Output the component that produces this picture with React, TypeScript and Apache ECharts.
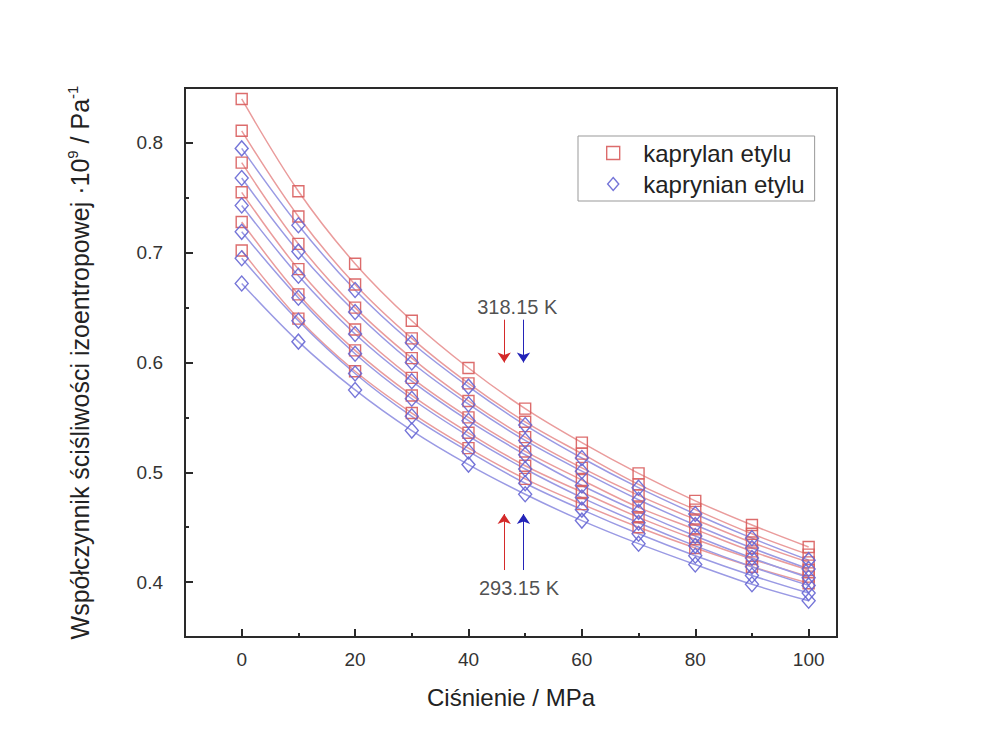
import React, { useEffect, useRef } from "react";
import * as echarts from "echarts";

// Pressure grid of the measurements, MPa
const pressure = [0, 10, 20, 30, 40, 50, 60, 70, 80, 90, 100];

// Isotherm labels, from the warmest to the coldest
const isotherms = ["318.15 K", "313.15 K", "308.15 K", "303.15 K", "298.15 K", "293.15 K"];

// Isentropic compressibility ·10^9 / Pa^-1 — ethyl caprylate (kaprylan etylu)
const kaprylan318 = [0.840, 0.756, 0.690, 0.638, 0.595, 0.558, 0.527, 0.499, 0.474, 0.452, 0.432];
const kaprylan313 = [0.811, 0.733, 0.671, 0.622, 0.581, 0.546, 0.517, 0.489, 0.466, 0.444, 0.425];
const kaprylan308 = [0.782, 0.708, 0.650, 0.604, 0.565, 0.532, 0.504, 0.479, 0.457, 0.436, 0.418];
const kaprylan303 = [0.755, 0.685, 0.630, 0.586, 0.550, 0.519, 0.493, 0.468, 0.448, 0.428, 0.411];
const kaprylan298 = [0.728, 0.662, 0.611, 0.570, 0.536, 0.506, 0.482, 0.459, 0.439, 0.421, 0.405];
const kaprylan293 = [0.702, 0.640, 0.592, 0.554, 0.522, 0.494, 0.471, 0.450, 0.431, 0.414, 0.399];

// Isentropic compressibility ·10^9 / Pa^-1 — ethyl caprate (kaprynian etylu)
const kaprynian318 = [0.795, 0.725, 0.666, 0.618, 0.578, 0.543, 0.513, 0.486, 0.462, 0.440, 0.420];
const kaprynian313 = [0.768, 0.701, 0.646, 0.600, 0.562, 0.529, 0.501, 0.475, 0.452, 0.431, 0.412];
const kaprynian308 = [0.743, 0.679, 0.626, 0.583, 0.547, 0.516, 0.488, 0.464, 0.442, 0.422, 0.404];
const kaprynian303 = [0.719, 0.659, 0.608, 0.567, 0.533, 0.503, 0.477, 0.454, 0.433, 0.414, 0.397];
const kaprynian298 = [0.695, 0.638, 0.590, 0.551, 0.519, 0.490, 0.466, 0.444, 0.424, 0.406, 0.390];
const kaprynian293 = [0.672, 0.619, 0.575, 0.538, 0.507, 0.480, 0.456, 0.435, 0.416, 0.398, 0.383];

const kaprylanSets = [kaprylan318, kaprylan313, kaprylan308, kaprylan303, kaprylan298, kaprylan293];
const kaprynianSets = [kaprynian318, kaprynian313, kaprynian308, kaprynian303, kaprynian298, kaprynian293];

const seriesNames = ["kaprylan etylu", "kaprynian etylu"];

// Tick positions
const xMajorTicks = [0, 20, 40, 60, 80, 100];
const xMinorTicks = [10, 30, 50, 70, 90];
const yMajorTicks = [0.4, 0.5, 0.6, 0.7, 0.8];
const yMinorTicks = [0.45, 0.55, 0.65, 0.75];

// Temperature arrows: [x, yFrom, yTo]
const arrowWarmRed = [46.3, 0.639, 0.600];
const arrowWarmBlue = [49.7, 0.639, 0.600];
const arrowColdRed = [46.3, 0.411, 0.462];
const arrowColdBlue = [49.7, 0.411, 0.462];
// Arrow captions: [x, y, text]
const arrowCaptions = [
  [48.6, 0.651, isotherms[0]],
  [48.9, 0.395, isotherms[5]],
];

const FONT = "'Liberation Sans', Arial, sans-serif";
const RED_LINE = "#ea9c9c";
const RED_MARK = "#d85c5c";
const BLUE_LINE = "#9a9ae4";
const BLUE_MARK = "#6666d4";
const ARROW_RED = "#d42a2a";
const ARROW_BLUE = "#2424b8";

const squareIcon = "path://M0,0L10,0L10,10L0,10Z";
const diamondIcon = "path://M6,0L12,7L6,14L0,7Z";

function toPoints(values: number[]) {
  return pressure.map((p, i) => [p, values[i]]);
}

function buildOption() {
  const series: any[] = [];

  kaprylanSets.forEach((vals, i) => {
    series.push({
      type: "line",
      name: "fit-kaprylan-" + isotherms[i],
      data: toPoints(vals),
      smooth: 0.35,
      symbol: "none",
      silent: true,
      z: 1,
      lineStyle: { color: RED_LINE, width: 1.5 },
    });
  });
  kaprynianSets.forEach((vals, i) => {
    series.push({
      type: "line",
      name: "fit-kaprynian-" + isotherms[i],
      data: toPoints(vals),
      smooth: 0.35,
      symbol: "none",
      silent: true,
      z: 1,
      lineStyle: { color: BLUE_LINE, width: 1.5 },
    });
  });
  kaprylanSets.forEach((vals) => {
    series.push({
      type: "scatter",
      name: seriesNames[0],
      data: toPoints(vals),
      symbol: "rect",
      symbolSize: 11,
      z: 3,
      itemStyle: { color: "rgba(255,255,255,0)", borderColor: RED_MARK, borderWidth: 1.4, opacity: 0.9 },
    });
  });
  kaprynianSets.forEach((vals) => {
    series.push({
      type: "scatter",
      name: seriesNames[1],
      data: toPoints(vals),
      symbol: "diamond",
      symbolSize: [13, 15],
      z: 4,
      itemStyle: { color: "rgba(255,255,255,0)", borderColor: BLUE_MARK, borderWidth: 1.4, opacity: 0.9 },
    });
  });

  const arrow = (a: number[], color: string) => [
    { coord: [a[0], a[1]], lineStyle: { color, width: 1, type: "solid" } },
    { coord: [a[0], a[2]] },
  ];

  series.push({
    type: "scatter",
    name: "captions",
    data: arrowCaptions,
    symbolSize: 0,
    silent: true,
    z: 6,
    label: {
      show: true,
      position: "inside",
      formatter: (p: any) => p.value[2],
      fontFamily: FONT,
      fontSize: 20,
      color: "#222",
    },
    markLine: {
      silent: true,
      symbol: ["none", "arrow"],
      symbolSize: 10,
      label: { show: false },
      emphasis: { disabled: true },
      lineStyle: { type: "solid", width: 1 },
      data: [
        arrow(arrowWarmRed, ARROW_RED),
        arrow(arrowWarmBlue, ARROW_BLUE),
        arrow(arrowColdRed, ARROW_RED),
        arrow(arrowColdBlue, ARROW_BLUE),
      ],
    },
  });

  const axisText = { fontFamily: FONT, fontSize: 19, color: "#333" };
  const axisColor = "#2a2a2a";

  return {
    animation: false,
    backgroundColor: "#ffffff",
    grid: {
      left: 185,
      top: 88,
      right: 153,
      bottom: 119,
      show: true,
      borderColor: axisColor,
      borderWidth: 2,
      backgroundColor: "rgba(0,0,0,0)",
    },
    legend: {
      data: [
        { name: seriesNames[0], icon: squareIcon, itemStyle: { color: "rgba(255,255,255,0)", borderColor: RED_MARK, borderWidth: 1.4 } },
        { name: seriesNames[1], icon: diamondIcon, itemStyle: { color: "rgba(255,255,255,0)", borderColor: BLUE_MARK, borderWidth: 1.4 } },
      ],
      orient: "vertical",
      left: 578,
      top: 136,
      itemWidth: 14,
      itemHeight: 13,
      itemGap: 7,
      symbolKeepAspect: true,
      borderColor: "#999",
      borderWidth: 1,
      padding: [5, 10, 5, 28],
      selectedMode: false,
      textStyle: { fontFamily: FONT, fontSize: 24, color: "#222", padding: [0, 0, 0, 18] },
    },
    xAxis: [
      {
        type: "value",
        min: -10,
        max: 105,
        name: "Ciśnienie / MPa",
        nameLocation: "middle",
        nameGap: 48,
        nameTextStyle: { fontFamily: FONT, fontSize: 24, color: "#222" },
        axisLine: { show: true, onZero: false, lineStyle: { color: axisColor, width: 2 } },
        axisTick: { show: true, inside: true, length: 8, customValues: xMajorTicks, lineStyle: { color: axisColor, width: 2 } },
        axisLabel: { show: true, margin: 13, customValues: xMajorTicks, ...axisText },
        splitLine: { show: false },
      },
      {
        type: "value",
        min: -10,
        max: 105,
        position: "bottom",
        axisLine: { show: false, onZero: false },
        axisTick: { show: true, inside: true, length: 4, customValues: xMinorTicks, lineStyle: { color: axisColor, width: 2 } },
        axisLabel: { show: false },
        splitLine: { show: false },
      },
    ],
    yAxis: [
      {
        type: "value",
        min: 0.35,
        max: 0.85,
        name: "Współczynnik ściśliwości izoentropowej ·10{sup|9} / Pa{sup|-1}",
        nameLocation: "middle",
        nameGap: 90,
        nameTextStyle: {
          fontFamily: FONT,
          fontSize: 25,
          color: "#222",
          lineHeight: 30,
          rich: {
            sup: { fontFamily: FONT, fontSize: 15, color: "#222", verticalAlign: "top", lineHeight: 16 },
          },
        },
        axisLine: { show: true, onZero: false, lineStyle: { color: axisColor, width: 2 } },
        axisTick: { show: true, inside: true, length: 8, customValues: yMajorTicks, lineStyle: { color: axisColor, width: 2 } },
        axisLabel: { show: true, margin: 22, customValues: yMajorTicks, formatter: (v: number) => v.toFixed(1), ...axisText },
        splitLine: { show: false },
      },
      {
        type: "value",
        min: 0.35,
        max: 0.85,
        position: "left",
        axisLine: { show: false, onZero: false },
        axisTick: { show: true, inside: true, length: 4, customValues: yMinorTicks, lineStyle: { color: axisColor, width: 2 } },
        axisLabel: { show: false },
        splitLine: { show: false },
      },
    ],
    series,
  };
}

export default function App() {
  const ref = useRef<HTMLDivElement>(null);

  useEffect(() => {
    if (!ref.current) return;
    const chart = echarts.init(ref.current, undefined, { renderer: "svg" });
    chart.setOption(buildOption() as any);
    return () => chart.dispose();
  }, []);

  return (
    <div
      ref={ref}
      style={{ position: "fixed", left: 0, top: 0, width: 990, height: 756, background: "#fff" }}
    />
  );
}
